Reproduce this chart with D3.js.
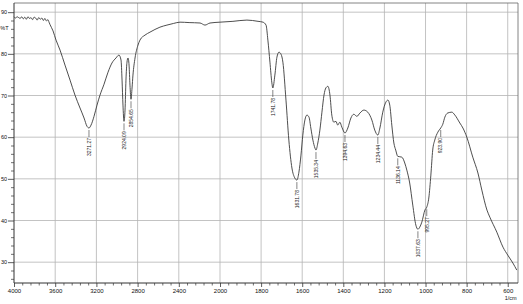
<!DOCTYPE html>
<html>
<head>
<meta charset="utf-8">
<script src="https://cdn.jsdelivr.net/npm/d3@7"></script>
<style>
  body { margin: 0; background: #fff; }
  svg { display: block; font-family: "Liberation Sans", Arial, sans-serif; }
</style>
</head>
<body>
<div id="chart"></div>
<script>
// Spectrum (wavenumber in 1/cm, transmittance in %T)
const wavenumbers = [
  4000, 3985, 3970, 3955, 3940, 3925, 3910, 3895, 3880, 3865, 3850, 3835, 3820, 3805,
  3790, 3775, 3760, 3745, 3730, 3715, 3700, 3685, 3670, 3660, 3650, 3621, 3592, 3553,
  3505, 3456, 3408, 3359, 3320, 3291, 3272, 3252, 3223, 3194, 3165, 3126, 3087, 3049,
  3010, 2981, 2961, 2951, 2942, 2932, 2922, 2913, 2903, 2893, 2883, 2874, 2864, 2854,
  2845, 2825, 2796, 2777, 2728, 2680, 2583, 2515, 2450, 2388, 2300, 2194, 2146, 2097,
  2000, 1937, 1869, 1815, 1791, 1776, 1767, 1757, 1748, 1743, 1733, 1723, 1713, 1703,
  1694, 1679, 1665, 1650, 1636, 1626, 1616, 1606, 1597, 1587, 1577, 1567, 1558, 1548,
  1538, 1533, 1524, 1514, 1504, 1494, 1485, 1475, 1465, 1456, 1446, 1436, 1427, 1417,
  1407, 1392, 1378, 1363, 1349, 1334, 1319, 1300, 1281, 1261, 1247, 1232, 1222, 1208,
  1193, 1183, 1174, 1164, 1154, 1145, 1135, 1115, 1101, 1091, 1077, 1062, 1047, 1037,
  1028, 1018, 1003, 994, 984, 974, 965, 955, 940, 926, 916, 906, 892, 872,
  857, 833, 818, 799, 770, 745, 726, 701, 687, 653, 623, 600, 575, 556
];
const transmittance = [
  88.9, 88.6, 88.9, 88.7, 88.5, 88.9, 88.4, 88.8, 88.3, 88.9, 88.5, 88.7, 88.2, 88.8,
  88.6, 88.1, 88.7, 88.3, 88.6, 88.0, 88.5, 87.9, 88.2, 87.6, 87.0, 85.5, 83.3, 80.9,
  77.3, 73.7, 70.1, 67.0, 64.6, 62.6, 62.2, 62.9, 65.0, 67.7, 70.1, 72.7, 75.6, 77.8,
  79.0, 79.7, 78.5, 73.7, 67.7, 63.8, 66.5, 73.7, 78.0, 79.0, 77.3, 72.5, 69.1, 71.8,
  74.9, 79.0, 82.1, 83.3, 84.5, 85.2, 86.4, 86.9, 87.3, 87.6, 87.5, 87.4, 86.9, 87.4,
  87.6, 87.8, 88.1, 87.8, 87.6, 86.9, 83.3, 78.0, 73.2, 71.8, 74.9, 79.2, 80.4, 79.9,
  78.0, 68.9, 59.3, 52.6, 50.2, 49.7, 51.6, 55.7, 60.5, 64.1, 65.3, 64.8, 62.2, 59.3,
  57.4, 56.9, 58.6, 61.7, 66.0, 70.1, 71.8, 72.2, 70.1, 65.3, 63.6, 63.8, 62.9, 63.6,
  62.4, 61.0, 62.2, 64.6, 65.5, 65.0, 65.8, 66.5, 66.0, 64.1, 61.7, 60.5, 62.2, 66.0,
  68.4, 68.9, 67.7, 62.9, 58.6, 56.9, 55.4, 55.2, 53.8, 52.1, 49.0, 43.7, 38.9, 37.9,
  38.4, 39.6, 42.5, 43.2, 45.4, 50.9, 56.9, 59.3, 61.2, 62.2, 63.1, 64.8, 65.8, 66.0,
  65.3, 63.4, 62.2, 60.0, 55.2, 51.4, 47.3, 42.5, 40.8, 37.2, 33.6, 31.7, 29.8, 28.1
];

// Peak picks printed under the curve
const peakWavenumbers = [3272, 2932, 2864, 1743, 1626, 1533, 1392, 1232, 1135, 1037, 994, 926];
const peakLabels = ["3271.27", "2924.09", "2854.65", "1741.78", "1631.78", "1535.34",
                    "1394.63", "1234.44", "1136.14", "1037.63", "995.27", "923.90"];

// Axis ticks
const xTickValues = [4000, 3600, 3200, 2800, 2400, 2000, 1800, 1600, 1400, 1200, 1000, 800, 600];
const yTickValues = [30, 40, 50, 60, 70, 80, 90];

const width = 523, height = 304;
const plotLeft = 14, plotRight = 518, plotTop = 3, plotBottom = 283;

const svg = d3.select("#chart").append("svg")
    .attr("width", width)
    .attr("height", height);

// x scale halves its compression below 2000 1/cm, like the instrument printout
const x = d3.scaleLinear().domain([4000, 2000, 550]).range([plotLeft, 220, plotRight]);
const y = d3.scaleLinear().domain([25, 92.2]).range([plotBottom, plotTop]);

// Grid lines
svg.append("g").selectAll("line")
    .data(xTickValues.slice(1))
    .enter().append("line")
    .attr("x1", d => x(d)).attr("x2", d => x(d))
    .attr("y1", plotTop).attr("y2", plotBottom)
    .attr("stroke", "#b4b4b4").attr("stroke-width", 0.8);

svg.append("g").selectAll("line")
    .data(yTickValues)
    .enter().append("line")
    .attr("x1", plotLeft).attr("x2", plotRight)
    .attr("y1", d => y(d)).attr("y2", d => y(d))
    .attr("stroke", "#b4b4b4").attr("stroke-width", 0.8);

// Frame (top and right)
svg.append("path")
    .attr("d", `M${plotLeft},${plotTop}H${plotRight}V${plotBottom}`)
    .attr("fill", "none").attr("stroke", "#666").attr("stroke-width", 0.8);

// Minor ticks
const xMinor = d3.range(4000, 2000, -80).concat(d3.range(2000, 560, -40))
    .filter(v => !xTickValues.includes(v));
const yMinor = d3.range(26, 92, 2).filter(v => v % 10 !== 0);

svg.append("g")
    .attr("transform", `translate(0,${plotBottom})`)
    .call(d3.axisBottom(x).tickValues(xMinor).tickSize(2.5).tickSizeOuter(0).tickFormat(""))
    .call(g => g.select(".domain").remove())
    .selectAll("line").attr("stroke", "#333").attr("stroke-width", 0.7);

svg.append("g")
    .attr("transform", `translate(${plotLeft},0)`)
    .call(d3.axisLeft(y).tickValues(yMinor).tickSize(3).tickSizeOuter(0).tickFormat(""))
    .call(g => g.select(".domain").remove())
    .selectAll("line").attr("stroke", "#333").attr("stroke-width", 0.7);

// Major axes with labels
const xAxis = svg.append("g")
    .attr("transform", `translate(0,${plotBottom})`)
    .call(d3.axisBottom(x).tickValues(xTickValues).tickFormat(d3.format("d"))
        .tickSize(4).tickSizeOuter(0).tickPadding(2));
xAxis.select(".domain").attr("d", `M${plotLeft},0H${plotRight}`).attr("stroke", "#333");
xAxis.selectAll("line").attr("stroke", "#333").attr("stroke-width", 0.8);
xAxis.selectAll("text").attr("font-size", 6).attr("fill", "#111")
    .attr("font-family", "'Liberation Sans', Arial, sans-serif");

const yAxis = svg.append("g")
    .attr("transform", `translate(${plotLeft},0)`)
    .call(d3.axisLeft(y).tickValues(yTickValues).tickFormat(d3.format("d"))
        .tickSize(6).tickSizeOuter(0).tickPadding(1));
yAxis.select(".domain").attr("d", `M0,${plotTop}V${plotBottom}`).attr("stroke", "#333");
yAxis.selectAll("line").attr("stroke", "#333").attr("stroke-width", 0.8);
yAxis.selectAll("text").attr("font-size", 5.5).attr("fill", "#111")
    .attr("font-family", "'Liberation Sans', Arial, sans-serif");

// Axis units
svg.append("text")
    .attr("x", 8.5).attr("y", 30)
    .attr("text-anchor", "end")
    .attr("font-size", 5.5).attr("fill", "#111")
    .text("%T");

svg.append("text")
    .attr("x", x(600) + 3).attr("y", 300)
    .attr("text-anchor", "middle")
    .attr("font-size", 5.5).attr("fill", "#111")
    .text("1/cm");

// Spectrum
const points = wavenumbers.map((w, i) => ({w: w, t: transmittance[i]}));

svg.append("path")
    .datum(points)
    .attr("fill", "none")
    .attr("stroke", "#3a3a3a")
    .attr("stroke-width", 0.9)
    .attr("d", d3.line().x(d => x(d.w)).y(d => y(d.t)).curve(d3.curveMonotoneX));

// Peak markers: short drop line then a vertical label
const peaks = svg.append("g");
peakWavenumbers.forEach((w, i) => {
    const p = d3.least(points, d => Math.abs(d.w - w));
    const px = x(p.w), py = y(p.t);
    peaks.append("line")
        .attr("x1", px).attr("x2", px)
        .attr("y1", py + 2).attr("y2", py + 9)
        .attr("stroke", "#333").attr("stroke-width", 0.6);
    peaks.append("text")
        .attr("transform", `translate(${px},${py + 10}) rotate(-90)`)
        .attr("text-anchor", "end")
        .attr("dy", "0.35em")
        .attr("font-size", 5)
        .attr("fill", "#222")
        .text(peakLabels[i]);
});
</script>
</body>
</html>
